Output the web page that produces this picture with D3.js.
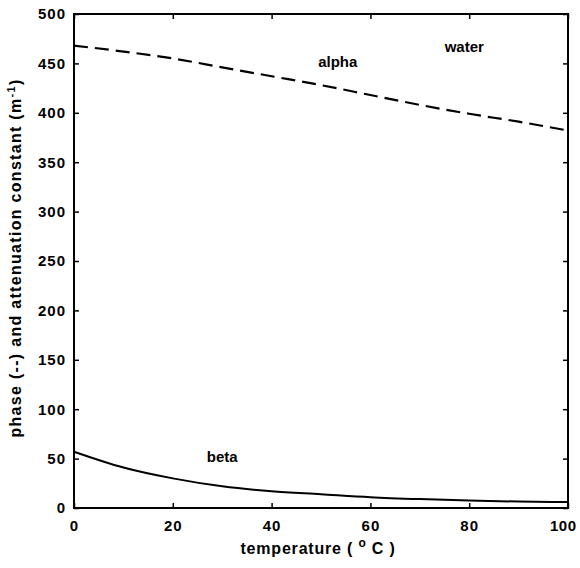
<!DOCTYPE html>
<html><head><meta charset="utf-8">
<script src="https://cdn.jsdelivr.net/npm/d3@7"></script>
<style>body{margin:0;background:#fff}svg{display:block}text{font-family:"Liberation Sans",Arial,sans-serif;fill:#000}</style>
</head><body><svg id="c" width="580" height="568"></svg>
<script>
const temps = [0,10,20,30,40,50,60,70,80,90,100];
const alpha = [468,462,455,446,437,428,418,408,399,391,382];
const beta = [57,41,30,22,17,14,11,9,7.5,6.5,6];
const xTicks = [0,20,40,60,80,100];
const yTicks = [0,50,100,150,200,250,300,350,400,450,500];
const labels = [{t:"alpha",x:53.4,y:450},{t:"water",x:79,y:466},{t:"beta",x:30,y:51}];

const svg = d3.select("#c");
const L=74,R=568,T=14,B=508;
const x = d3.scaleLinear().domain([0,100]).range([L,R]);
const y = d3.scaleLinear().domain([0,500]).range([B,T]);

const tick = s=>s.attr("font-size",15).attr("font-weight","bold").attr("letter-spacing","1px");
const gx = svg.append("g").attr("transform",`translate(0,${B})`)
  .call(d3.axisBottom(x).tickValues(xTicks).tickSizeInner(-5).tickSizeOuter(0).tickPadding(12));
gx.selectAll("text").call(tick);
gx.selectAll(".tick").filter(d=>d===100).select("text")
  .attr("text-anchor","end").attr("letter-spacing","0.5px").attr("x",8);
const gy = svg.append("g").attr("transform",`translate(${L},0)`)
  .call(d3.axisLeft(y).tickValues(yTicks).tickSizeInner(-5).tickSizeOuter(0).tickPadding(8));
gy.selectAll("text").call(tick);
svg.append("g").attr("transform",`translate(0,${T})`)
  .call(d3.axisTop(x).tickValues(xTicks).tickSizeInner(-5).tickSizeOuter(0).tickFormat(""));
svg.append("g").attr("transform",`translate(${R},0)`)
  .call(d3.axisRight(y).tickValues(yTicks).tickSizeInner(-5).tickSizeOuter(0).tickFormat(""));
svg.selectAll(".domain").remove();
svg.selectAll(".tick line").attr("stroke","#000").attr("stroke-width",1.5);
svg.append("rect").attr("x",L).attr("y",T).attr("width",R-L).attr("height",B-T)
  .attr("fill","none").attr("stroke","#000").attr("stroke-width",2);

const line = d3.line().x((d,i)=>x(temps[i])).y(d=>y(d)).curve(d3.curveMonotoneX);
svg.append("path").datum(alpha).attr("d",line).attr("fill","none").attr("stroke","#000")
  .attr("stroke-width",2.2).attr("stroke-dasharray","14,7");
svg.append("path").datum(beta).attr("d",line).attr("fill","none").attr("stroke","#000")
  .attr("stroke-width",2);

labels.forEach(l=>svg.append("text").attr("x",x(l.x)).attr("y",y(l.y)).attr("text-anchor","middle")
  .attr("dominant-baseline","middle").attr("font-size",15).attr("font-weight","bold").text(l.t));

const xt = svg.append("text").attr("x",318).attr("y",554).attr("text-anchor","middle")
  .attr("font-size",16).attr("font-weight","bold").attr("letter-spacing","0.8px");
xt.append("tspan").text("temperature ( ");
xt.append("tspan").attr("dy",-7).attr("font-size",12).text("o");
xt.append("tspan").attr("dy",7).text(" C )");

const yt = svg.append("text").attr("transform","translate(21,258) rotate(-90)").attr("text-anchor","middle")
  .attr("font-size",16).attr("font-weight","bold").attr("letter-spacing","1.3px");
yt.append("tspan").text("phase (--) and attenuation constant (m");
yt.append("tspan").attr("dy",-6).attr("font-size",11).text("-1");
yt.append("tspan").attr("dy",6).text(")");
</script></body></html>
